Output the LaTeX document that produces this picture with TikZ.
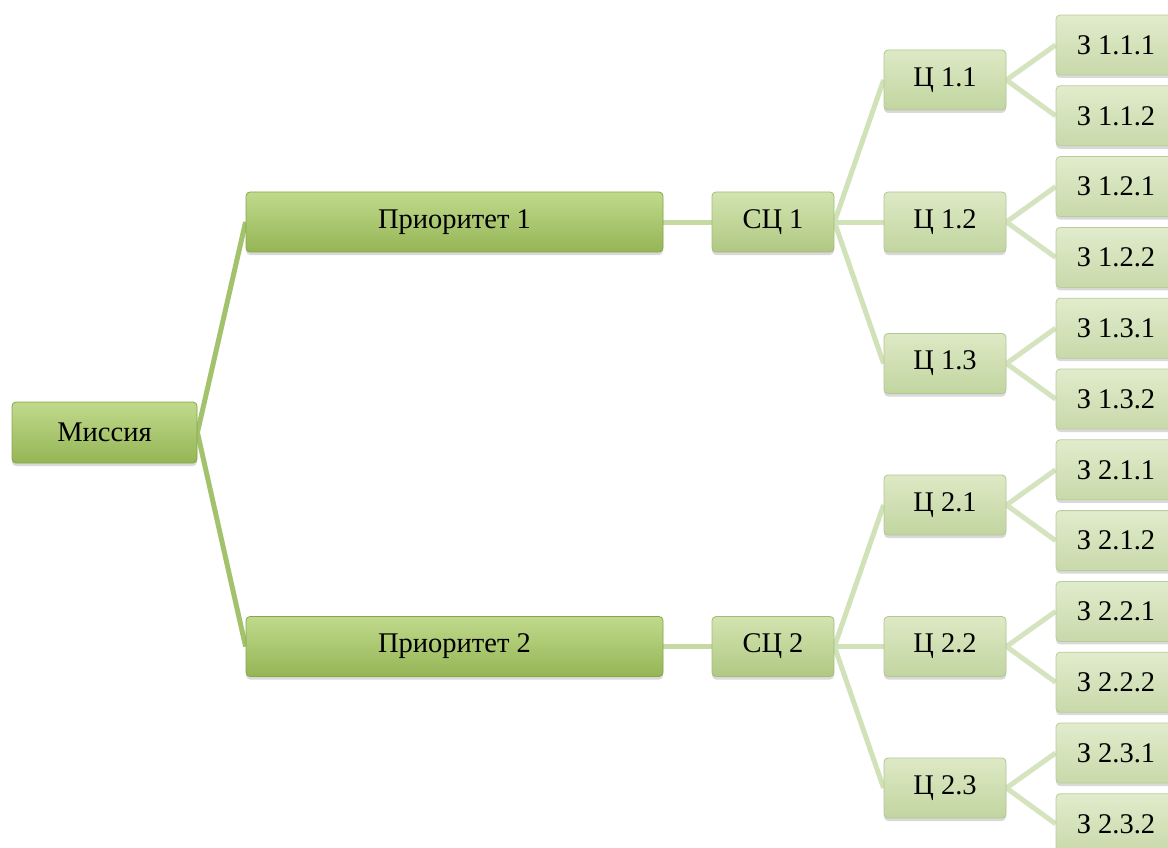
\documentclass[tikz,border=0pt]{standalone}
\usepackage{fontspec}
\setmainfont{Liberation Serif}
\usetikzlibrary{shadows,backgrounds}
\definecolor{aTop}{HTML}{C0DA8C}
\definecolor{aBot}{HTML}{95B555}
\definecolor{aDraw}{HTML}{86A64A}
\definecolor{bTop}{HTML}{D3E4B0}
\definecolor{bBot}{HTML}{B0C883}
\definecolor{bDraw}{HTML}{A3BB78}
\definecolor{cTop}{HTML}{DDE9C5}
\definecolor{cBot}{HTML}{C2D5A0}
\definecolor{cDraw}{HTML}{B3C695}
\definecolor{dTop}{HTML}{E1ECCC}
\definecolor{dBot}{HTML}{C8D9AA}
\definecolor{dDraw}{HTML}{BACC9C}
\definecolor{eA}{HTML}{A3C26C}
\definecolor{eB}{HTML}{C6D9A3}
\definecolor{eC}{HTML}{D1E1B8}
\definecolor{eD}{HTML}{D5E3BF}
\begin{document}
\begin{tikzpicture}[x=1pt,y=-1pt,
  box/.style={rectangle, rounded corners=4pt, minimum height=60pt, inner sep=0pt,
    font=\fontsize{28.5}{32}\selectfont, line width=0.8pt,
    drop shadow={opacity=0.3, shadow xshift=0pt, shadow yshift=-3pt}},
  lvA/.style={box, top color=aTop, bottom color=aBot, draw=aDraw},
  lvB/.style={box, top color=bTop, bottom color=bBot, draw=bDraw},
  lvC/.style={box, top color=cTop, bottom color=cBot, draw=cDraw},
  lvD/.style={box, top color=dTop, bottom color=dBot, draw=dDraw, minimum width=120pt},
  edge/.style={line width=5pt, draw=#1}]
\clip (0,0) rectangle (1168,848);
\node[lvA, minimum width=185pt, minimum height=61pt] (m) at (104.5,432.5) {Миссия};
\node[lvA, minimum width=417pt] (p1) at (454.5,222) {Приоритет 1};
\node[lvA, minimum width=417pt] (p2) at (454.5,646.5) {Приоритет 2};
\node[lvB, minimum width=122pt] (s1) at (773,222) {СЦ 1};
\node[lvB, minimum width=122pt] (s2) at (773,646.5) {СЦ 2};
\node[lvC, minimum width=122pt] (c11) at (945,80) {Ц 1.1};
\node[lvC, minimum width=122pt] (c12) at (945,222) {Ц 1.2};
\node[lvC, minimum width=122pt] (c13) at (945,363.5) {Ц 1.3};
\node[lvC, minimum width=122pt] (c21) at (945,505) {Ц 2.1};
\node[lvC, minimum width=122pt] (c22) at (945,646.5) {Ц 2.2};
\node[lvC, minimum width=122pt] (c23) at (945,788) {Ц 2.3};
\node[lvD] (z111) at (1116,45) {З 1.1.1};
\node[lvD] (z112) at (1116,115.8) {З 1.1.2};
\node[lvD] (z121) at (1116,186.6) {З 1.2.1};
\node[lvD] (z122) at (1116,257.4) {З 1.2.2};
\node[lvD] (z131) at (1116,328.2) {З 1.3.1};
\node[lvD] (z132) at (1116,399) {З 1.3.2};
\node[lvD] (z211) at (1116,469.8) {З 2.1.1};
\node[lvD] (z212) at (1116,540.6) {З 2.1.2};
\node[lvD] (z221) at (1116,611.4) {З 2.2.1};
\node[lvD] (z222) at (1116,682.2) {З 2.2.2};
\node[lvD] (z231) at (1116,753) {З 2.3.1};
\node[lvD] (z232) at (1116,823.8) {З 2.3.2};
\begin{scope}[on background layer]
\draw[edge=eA] (m.east) -- (p1.west);
\draw[edge=eA] (m.east) -- (p2.west);
\draw[edge=eB] (p1.east) -- (s1.west);
\draw[edge=eB] (p2.east) -- (s2.west);
\foreach \c in {c11,c12,c13} \draw[edge=eC] (s1.east) -- (\c.west);
\foreach \c in {c21,c22,c23} \draw[edge=eC] (s2.east) -- (\c.west);
\foreach \a/\b in {c11/z111,c11/z112,c12/z121,c12/z122,c13/z131,c13/z132,c21/z211,c21/z212,c22/z221,c22/z222,c23/z231,c23/z232}
  \draw[edge=eD] (\a.east) -- (\b.west);
\end{scope}
\end{tikzpicture}
\end{document}
